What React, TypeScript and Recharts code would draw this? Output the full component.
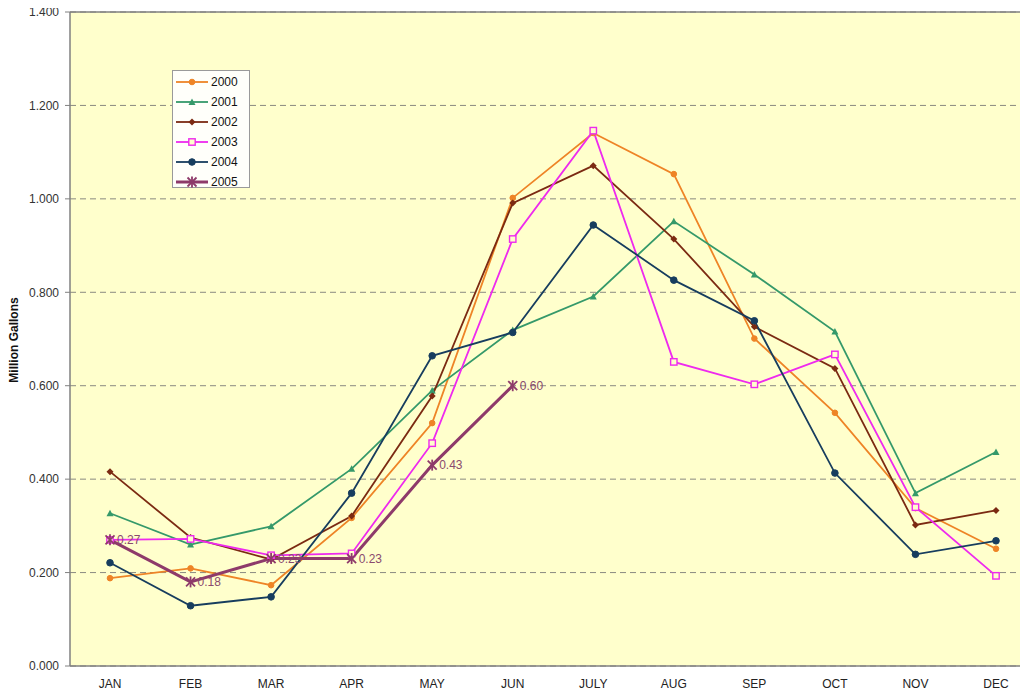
import React from "react";
import {
  LineChart,
  Line,
  XAxis,
  YAxis,
  CartesianGrid,
  LabelList,
  ReferenceLine,
} from "recharts";

const months = ["JAN", "FEB", "MAR", "APR", "MAY", "JUN", "JULY", "AUG", "SEP", "OCT", "NOV", "DEC"];

const y2000 = [0.188, 0.209, 0.173, 0.317, 0.52, 1.002, 1.141, 1.053, 0.701, 0.542, 0.338, 0.251];
const y2001 = [0.327, 0.26, 0.299, 0.422, 0.59, 0.719, 0.791, 0.952, 0.838, 0.716, 0.37, 0.458];
const y2002 = [0.416, 0.275, 0.228, 0.321, 0.578, 0.991, 1.071, 0.914, 0.726, 0.637, 0.302, 0.333];
const y2003 = [0.27, 0.272, 0.237, 0.241, 0.477, 0.914, 1.146, 0.651, 0.603, 0.667, 0.34, 0.193];
const y2004 = [0.221, 0.129, 0.148, 0.37, 0.664, 0.714, 0.944, 0.826, 0.739, 0.413, 0.239, 0.268];
const y2005 = [0.27, 0.18, 0.23, 0.23, 0.43, 0.6, null, null, null, null, null, null];

const yTicks = [0, 0.2, 0.4, 0.6, 0.8, 1.0, 1.2, 1.4];

const data = months.map((m, i) => ({
  month: m,
  s2000: y2000[i],
  s2001: y2001[i],
  s2002: y2002[i],
  s2003: y2003[i],
  s2004: y2004[i],
  s2005: y2005[i],
}));

type Shape = "circle" | "triangle" | "diamond" | "square" | "bigcircle" | "star";

const series: { key: string; name: string; color: string; shape: Shape; width: number }[] = [
  { key: "s2000", name: "2000", color: "#EE8426", shape: "circle", width: 1.8 },
  { key: "s2001", name: "2001", color: "#35996A", shape: "triangle", width: 1.8 },
  { key: "s2002", name: "2002", color: "#7B2A12", shape: "diamond", width: 1.8 },
  { key: "s2003", name: "2003", color: "#EE2AEE", shape: "square", width: 1.8 },
  { key: "s2004", name: "2004", color: "#173D5E", shape: "bigcircle", width: 1.8 },
  { key: "s2005", name: "2005", color: "#8E3A6A", shape: "star", width: 3 },
];

function marker(shape: Shape, color: string, cx: number, cy: number, key?: string) {
  switch (shape) {
    case "circle":
      return <circle key={key} cx={cx} cy={cy} r={2.8} fill={color} stroke={color} />;
    case "bigcircle":
      return <circle key={key} cx={cx} cy={cy} r={3.3} fill={color} stroke={color} />;
    case "triangle":
      return (
        <polygon
          key={key}
          points={`${cx},${cy - 3.5} ${cx + 3.5},${cy + 3} ${cx - 3.5},${cy + 3}`}
          fill={color}
        />
      );
    case "diamond":
      return (
        <polygon
          key={key}
          points={`${cx},${cy - 3.5} ${cx + 3.5},${cy} ${cx},${cy + 3.5} ${cx - 3.5},${cy}`}
          fill={color}
        />
      );
    case "square":
      return (
        <rect key={key} x={cx - 3.2} y={cy - 3.2} width={6.4} height={6.4} fill="#FFFFCC" stroke={color} strokeWidth={1.4} />
      );
    case "star":
      return (
        <g key={key} stroke={color} strokeWidth={1.8}>
          <line x1={cx - 4.5} y1={cy - 4.5} x2={cx + 4.5} y2={cy + 4.5} />
          <line x1={cx - 4.5} y1={cy + 4.5} x2={cx + 4.5} y2={cy - 4.5} />
          <line x1={cx} y1={cy - 5.5} x2={cx} y2={cy + 5.5} />
        </g>
      );
  }
}

function makeDot(shape: Shape, color: string) {
  return (props: any) => {
    const { cx, cy, index, value } = props;
    if (value == null || cx == null || cy == null) return <g key={`e-${index}`} />;
    return marker(shape, color, cx, cy, `d-${index}`);
  };
}

const font = "'Liberation Sans', Arial, sans-serif";

function LegendBox() {
  return (
    <div
      style={{
        position: "absolute",
        left: 172,
        top: 70,
        width: 78,
        height: 118,
        background: "#FFFFFA",
        border: "1px solid #9A9A9A",
        boxSizing: "border-box",
        paddingTop: 1,
      }}
    >
      {series.map((s) => (
        <div key={s.key} style={{ height: 20, display: "flex", alignItems: "center" }}>
          <svg width={38} height={14} style={{ display: "block" }}>
            <line x1={3} y1={7} x2={35} y2={7} stroke={s.color} strokeWidth={s.width} />
            {marker(s.shape, s.color, 19, 7)}
          </svg>
          <span style={{ fontFamily: font, fontSize: 12, color: "#111" }}>{s.name}</span>
        </div>
      ))}
    </div>
  );
}

export default function App() {
  return (
    <div style={{ margin: -8, width: 1028, height: 696, overflow: "hidden", background: "#fff", position: "relative" }}>
      <LineChart width={1040} height={696} data={data} margin={{ top: 12, right: 4, bottom: 0, left: 0 }}>
        <CartesianGrid vertical={false} stroke="#8A8A80" strokeDasharray="6 4" fill="#FFFFCC" />
        <XAxis
          dataKey="month"
          height={30}
          padding={{ left: 40, right: 40 }}
          tickLine={false}
          tickSize={0}
          axisLine={{ stroke: "#808080", strokeWidth: 1.5 }}
          tick={{ fill: "#222", fontSize: 12, fontFamily: font }}
          tickMargin={13}
          interval={0}
        />
        <YAxis
          width={70}
          domain={[0, 1.4]}
          ticks={yTicks}
          tickFormatter={(v: number) => v.toFixed(3)}
          axisLine={{ stroke: "#808080", strokeWidth: 1.5 }}
          tickLine={{ stroke: "#808080" }}
          tickSize={5}
          tickMargin={6}
          tick={{ fill: "#333", fontSize: 12, fontFamily: font }}
          label={{
            content: () => (
              <text
                x={15}
                y={340}
                transform="rotate(-90 15 340)"
                textAnchor="middle"
                dominantBaseline="middle"
                fontFamily={font}
                fontSize={12}
                fontWeight="bold"
                fill="#111"
              >
                Million Gallons
              </text>
            ),
          }}
        />
        <ReferenceLine y={1.4} stroke="#808080" strokeWidth={1.5} />
        {series.map((s) => (
          <Line
            key={s.key}
            type="linear"
            dataKey={s.key}
            name={s.name}
            stroke={s.color}
            strokeWidth={s.width}
            dot={makeDot(s.shape, s.color)}
            activeDot={false}
            connectNulls={false}
            isAnimationActive={false}
          >
            {s.key === "s2005" && (
              <LabelList
                dataKey="s2005"
                position="right"
                offset={7}
                formatter={(v: any) => (v == null ? "" : Number(v).toFixed(2))}
                style={{ fill: "#8A4A6E", fontSize: 12, fontFamily: font }}
              />
            )}
          </Line>
        ))}
      </LineChart>
      <LegendBox />
    </div>
  );
}
